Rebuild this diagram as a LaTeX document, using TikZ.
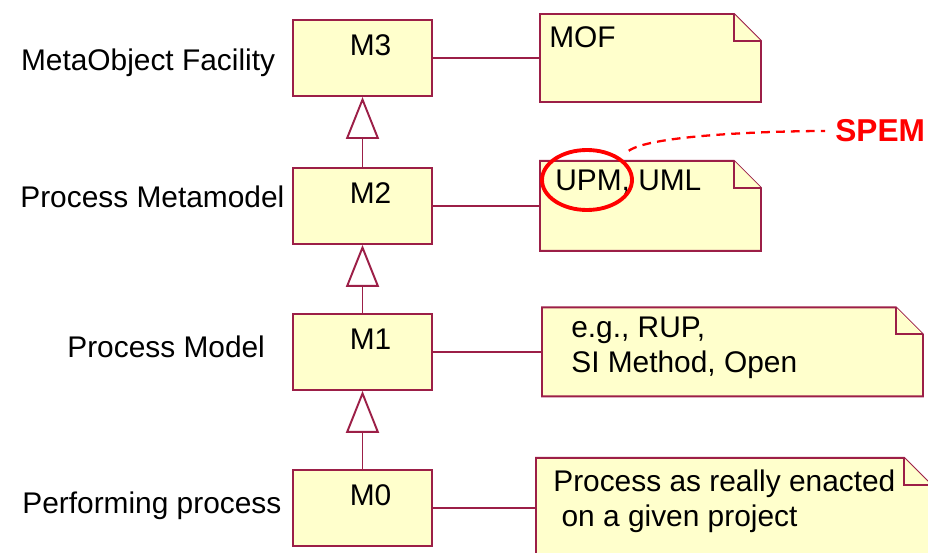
\documentclass[tikz,border=0pt]{standalone}
\usepackage{fontspec}
\setmainfont{Liberation Sans}
\usetikzlibrary{shapes.geometric, arrows.meta, positioning, backgrounds}
\definecolor{mline}{HTML}{9C1F47}
\definecolor{mfill}{HTML}{FFFFCC}
\definecolor{mred}{HTML}{FF0000}
\tikzstyle{layer} = [rectangle, minimum width=2.78cm, minimum height=1.52cm, inner sep=0pt, draw=mline, line width=1.1pt, fill=mfill]
\tikzstyle{note} = [rectangle, inner sep=0pt, outer sep=0pt]
\tikzstyle{notepaper} = [draw=mline, line width=1.1pt, fill=mfill]
\tikzstyle{notetext} = [anchor=north west, align=left, inner sep=0pt]
\tikzstyle{levelname} = [anchor=base west, inner sep=0pt]
\tikzstyle{link} = [draw=mline, line width=1.1pt]
\tikzstyle{instanceof} = [draw=mline, line width=1.1pt, -{Triangle[open, fill=white, length=0.84cm, width=0.66cm]}]
\tikzstyle{highlight} = [ellipse, draw=mred, line width=2.2pt, minimum width=1.8cm, minimum height=1.2cm, inner sep=0pt]
\tikzstyle{callout} = [draw=mred, line width=1.3pt, dash pattern=on 5pt off 3.5pt]

\begin{document}
\begin{tikzpicture}[font=\fontsize{17}{20}\selectfont]
  \useasboundingbox (0,0) rectangle (18.56,-11.06);
  % meta levels
  \node (m3) [layer, label={[xshift=0.16cm, yshift=0.26cm, inner sep=0pt]center:M3}] at (7.25,-1.16) {};
  \node (m2) [layer, below=1.40cm of m3, label={[xshift=0.16cm, yshift=0.26cm, inner sep=0pt]center:M2}] {};
  \node (m1) [layer, below=1.36cm of m2, label={[xshift=0.16cm, yshift=0.26cm, inner sep=0pt]center:M1}] {};
  \node (m0) [layer, below=1.56cm of m1, label={[xshift=0.16cm, yshift=0.26cm, inner sep=0pt]center:M0}] {};
  \node (mofname) [levelname] at (0.414,-1.414) {MetaObject Facility};
  \node (pmmname) [levelname] at (0.4,-4.16) {Process Metamodel};
  \node (pmname) [levelname] at (1.34,-7.14) {Process Model};
  \node (ppname) [levelname] at (0.44,-10.26) {Performing process};
  \draw [instanceof] (m2) -- (m3);
  \draw [instanceof] (m1) -- (m2);
  \draw [instanceof] (m0) -- (m1);
  % notes
  \node (mof) [note, minimum width=4.42cm, minimum height=1.76cm, right=2.14cm of m3] {};
  \node (upm) [note, minimum width=4.42cm, minimum height=1.8cm, right=2.14cm of m2] {};
  \node (rup) [note, minimum width=7.62cm, minimum height=1.78cm, right=2.18cm of m1] {};
  \node (enact) [note, minimum width=7.9cm, minimum height=2cm, right=2.06cm of m0] {};
  \begin{scope}[on background layer]
    \foreach \n in {mof, upm, rup, enact} {
      \draw [notepaper] (\n.north west) -- ([xshift=-0.54cm]\n.north east) -- ([yshift=-0.54cm]\n.north east) -- (\n.south east) -- (\n.south west) -- cycle;
      \draw [notepaper] ([xshift=-0.54cm]\n.north east) |- ([yshift=-0.54cm]\n.north east);
    }
  \end{scope}
  \node (moftext) [notetext] at ([xshift=0.18cm, yshift=-0.24cm]mof.north west) {MOF};
  \node (upmtext) [notetext] at ([xshift=0.30cm, yshift=-0.18cm]upm.north west) {UPM, UML};
  \node (ruptext) [notetext] at ([xshift=0.58cm, yshift=-0.19cm]rup.north west) {e.g., RUP,\\SI Method, Open};
  \node (enacttext) [notetext] at ([xshift=0.34cm, yshift=-0.24cm]enact.north west) {Process as really enacted\\~on a given project};
  \draw [link] (m3.east) -- (mof.west |- m3.east);
  \draw [link] (m2.east) -- (upm.west |- m2.east);
  \draw [link] (m1.east) -- (rup.west |- m1.east);
  \draw [link] (m0.east) -- (enact.west |- m0.east);
  % SPEM remark
  \node (upmring) [highlight] at (11.74,-3.6) {};
  \node (spem) [anchor=west, inner sep=0.2cm, text=mred, font=\fontsize{18}{21}\selectfont\bfseries] at (16.5,-2.62) {SPEM};
  \draw [callout, shorten <=0.22cm] (upmring.35) to[out=35, in=180, looseness=0.5] (spem.west);
\end{tikzpicture}
\end{document}
